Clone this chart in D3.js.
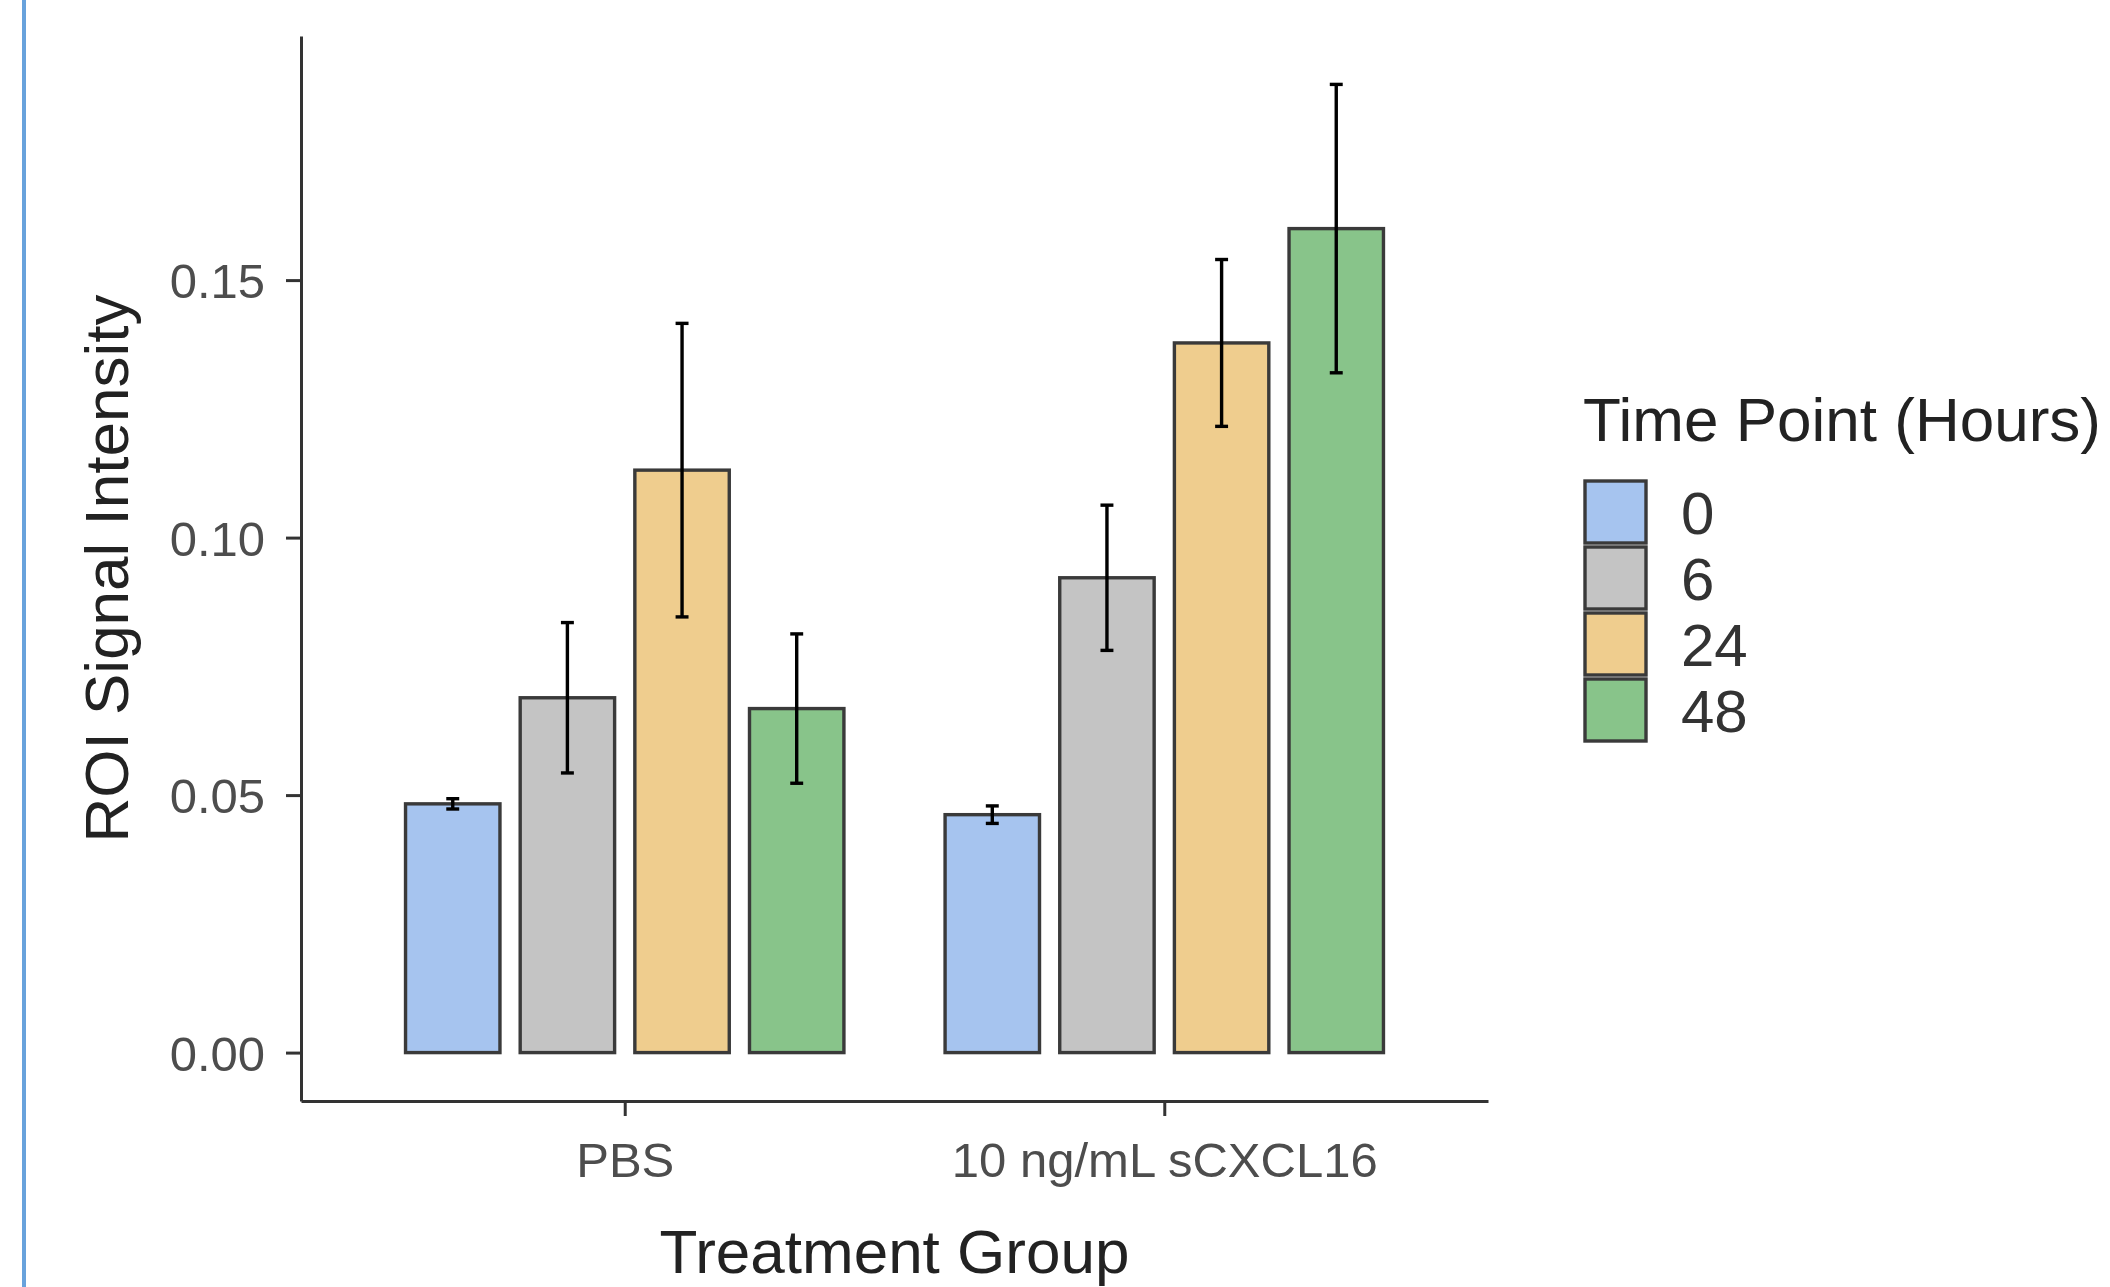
<!DOCTYPE html>
<html>
<head>
<meta charset="utf-8">
<script src="https://cdn.jsdelivr.net/npm/d3@7"></script>
<style>
  html, body { margin: 0; padding: 0; background: #fff; }
  svg { display: block; }
  text { font-family: "Liberation Sans", Arial, Helvetica, sans-serif; }
</style>
</head>
<body>
<svg id="chart" width="2110" height="1287"></svg>
<script>
const groups = ["PBS", "10 ng/mL sCXCL16"];
const timePoints = ["0", "6", "24", "48"];
const pbsMeans = [0.0483, 0.0689, 0.1131, 0.0668];
const pbsErrors = [0.0010, 0.0146, 0.0285, 0.0145];
const cxclMeans = [0.0462, 0.0922, 0.1378, 0.1600];
const cxclErrors = [0.0017, 0.0141, 0.0162, 0.0280];
const yTicks = [0, 0.05, 0.10, 0.15];
const fillColors = ["#A6C4EF", "#C4C4C4", "#EFCD8E", "#88C48A"];

const yTitle = "ROI Signal Intensity";
const xTitle = "Treatment Group";
const legendTitle = "Time Point (Hours)";

const meansByGroup = [pbsMeans, cxclMeans];
const errorsByGroup = [pbsErrors, cxclErrors];
const data = [];
groups.forEach((g, gi) => {
  timePoints.forEach((t, ti) => {
    data.push({ group: g, gi: gi + 1, time: t, ti: ti,
      mean: meansByGroup[gi][ti], err: errorsByGroup[gi][ti] });
  });
});

const svg = d3.select("#chart");

// left page border line
svg.append("rect").attr("x", 22).attr("y", 0).attr("width", 4).attr("height", 1287)
  .attr("fill", "#68A2DC");

const pLeft = 301, pRight = 1488, pTop = 36, pBottom = 1101;
const x = d3.scaleLinear().domain([0.4, 2.6]).range([pLeft, pRight]);
const y = d3.scaleLinear().domain([-0.0094, 0.1974]).range([pBottom, pTop]);
const color = d3.scaleOrdinal().domain(timePoints).range(fillColors);

const dodge = 0.85, barW = 0.7;
const nT = timePoints.length;
const cx = d => d.gi + (d.ti - (nT - 1) / 2) * (dodge / nT);
const halfBar = barW / nT / 2;
const capHalf = 0.012;

// bars
svg.append("g").selectAll("rect").data(data).join("rect")
  .attr("x", d => x(cx(d) - halfBar))
  .attr("y", d => y(d.mean))
  .attr("width", d => x(cx(d) + halfBar) - x(cx(d) - halfBar))
  .attr("height", d => y(0) - y(d.mean))
  .attr("fill", d => color(d.time))
  .attr("stroke", "#3a3a3a")
  .attr("stroke-width", 3.4);

// error bars
const eb = svg.append("g").attr("stroke", "#000").attr("stroke-width", 3.4).attr("fill", "none");
eb.selectAll("line.v").data(data).join("line").attr("class", "v")
  .attr("x1", d => x(cx(d))).attr("x2", d => x(cx(d)))
  .attr("y1", d => y(d.mean + d.err)).attr("y2", d => y(d.mean - d.err));
eb.selectAll("line.t").data(data).join("line").attr("class", "t")
  .attr("x1", d => x(cx(d) - capHalf)).attr("x2", d => x(cx(d) + capHalf))
  .attr("y1", d => y(d.mean + d.err)).attr("y2", d => y(d.mean + d.err));
eb.selectAll("line.b").data(data).join("line").attr("class", "b")
  .attr("x1", d => x(cx(d) - capHalf)).attr("x2", d => x(cx(d) + capHalf))
  .attr("y1", d => y(d.mean - d.err)).attr("y2", d => y(d.mean - d.err));

// y axis
const yAxis = svg.append("g").attr("transform", `translate(${pLeft},0)`)
  .call(d3.axisLeft(y).tickValues(yTicks).tickFormat(d3.format(".2f"))
    .tickSize(15).tickSizeOuter(0).tickPadding(21));
// x axis
const xAxis = svg.append("g").attr("transform", `translate(0,${pBottom})`)
  .call(d3.axisBottom(x).tickValues([1, 2]).tickFormat(i => groups[i - 1])
    .tickSize(15).tickSizeOuter(0).tickPadding(26));
[yAxis, xAxis].forEach(a => {
  a.select(".domain").attr("stroke", "#333").attr("stroke-width", 3);
  a.selectAll(".tick line").attr("stroke", "#333").attr("stroke-width", 3);
  a.selectAll(".tick text").attr("fill", "#4D4D4D").attr("font-size", 49)
    .attr("font-family", '"Liberation Sans", Arial, sans-serif');
});
yAxis.selectAll(".tick text").attr("dy", "0.36em");

// axis titles
svg.append("text").attr("x", (pLeft + pRight) / 2).attr("y", 1273)
  .attr("text-anchor", "middle").attr("font-size", 62).attr("fill", "#222")
  .text(xTitle);
svg.append("text").attr("transform", `translate(128,${(pTop + pBottom) / 2}) rotate(-90)`)
  .attr("text-anchor", "middle").attr("font-size", 62).attr("fill", "#222")
  .text(yTitle);

// legend
const lg = svg.append("g");
lg.append("text").attr("x", 1583).attr("y", 441).attr("font-size", 62).attr("fill", "#222")
  .text(legendTitle);
const items = lg.selectAll("g.item").data(timePoints).join("g").attr("class", "item")
  .attr("transform", (d, i) => `translate(1585,${481 + i * 66})`);
items.append("rect").attr("width", 61).attr("height", 62)
  .attr("fill", d => color(d)).attr("stroke", "#3a3a3a").attr("stroke-width", 3.4);
items.append("text").attr("x", 96).attr("y", 31).attr("dy", "0.36em")
  .attr("font-size", 60).attr("fill", "#333").text(d => d);
</script>
</body>
</html>
